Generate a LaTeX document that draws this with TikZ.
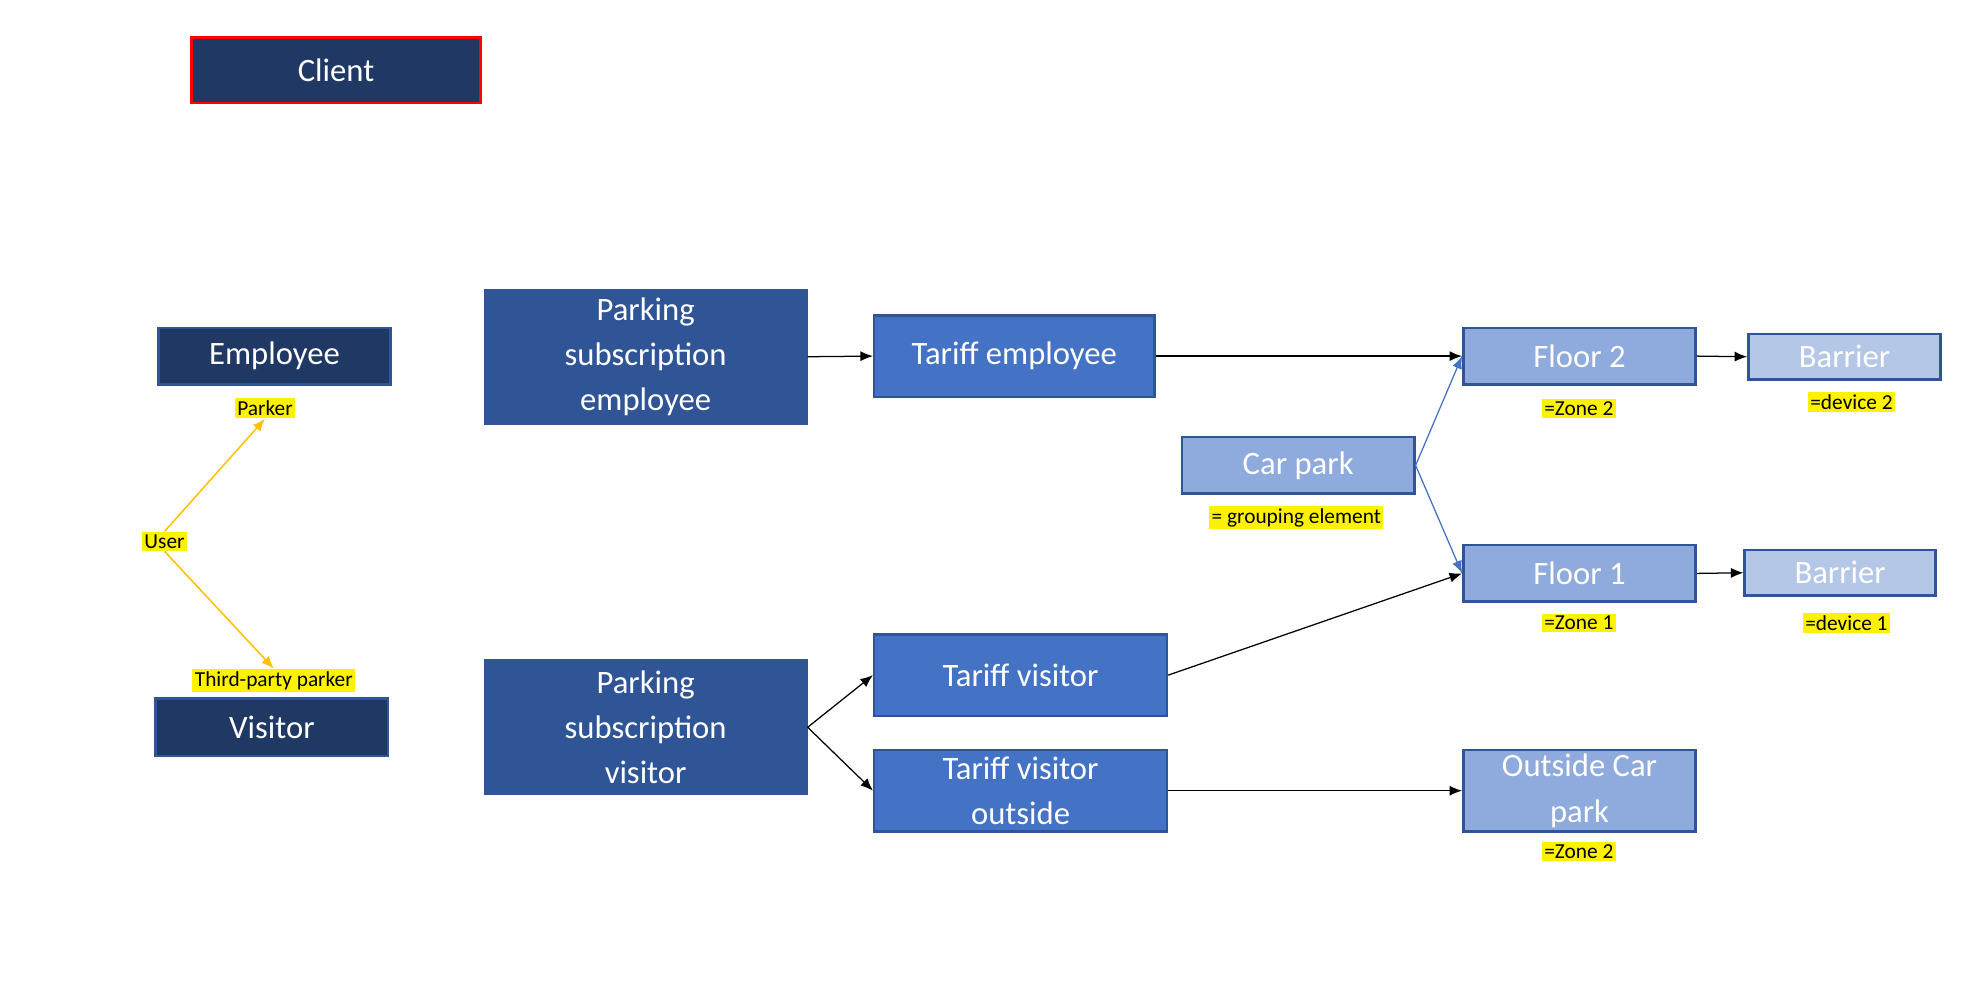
\documentclass[tikz,border=0pt]{standalone}
\usepackage{fontspec}
\setmainfont{Carlito}
\usetikzlibrary{arrows.meta}
\definecolor{navy}{HTML}{1F3864}
\definecolor{dblue}{HTML}{2F5597}
\definecolor{mblue}{HTML}{4472C4}
\definecolor{lblue}{HTML}{8FAADC}
\definecolor{llblue}{HTML}{B4C7E7}
\definecolor{orng}{HTML}{FFC000}
\begin{document}
\begin{tikzpicture}[x=0.5pt,y=-0.5pt,
 box/.style={draw=dblue,line width=1pt,text=white,font=\fontsize{13}{18}\selectfont,align=center,inner sep=0pt},
 lab/.style={fill=yellow,font=\fontsize{8.5}{10}\selectfont,inner sep=1pt},
 arr/.style={-{Latex[length=5pt,width=4pt]},line width=0.5pt},
 oarr/.style={-{Latex[length=5pt,width=4pt]},orng,line width=0.6pt}]
\useasboundingbox (0,0) rectangle (1566,793);
\newcommand{\bx}[7]{\node[box,fill=#6,minimum width=#4*0.5pt,minimum height=#5*0.5pt,#7] (#1) at (#2,#3) {};}
\node[box,fill=navy,draw=red,minimum width=115pt,minimum height=26pt] (client) at (267.5,56) {Client};
\node[box,fill=navy,minimum width=92.5pt,minimum height=22.5pt] (emp) at (218.5,283.5) {Employee};
\node[box,fill=navy,minimum width=92.5pt,minimum height=23pt] (vis) at (216.5,579) {Visitor};
\node[lab] (parker) at (211,325) {Parker};
\node[lab] (user) at (131,431) {User};
\node[lab] (third) at (218,542) {Third-party parker};
\draw[oarr] (user.north) -- (parker.south);
\draw[oarr] (user.south) -- (third.north);
\node[box,fill=dblue,minimum width=128pt,minimum height=53pt] (pse) at (514,284) {Parking\\subscription\\employee};
\node[box,fill=dblue,minimum width=128pt,minimum height=53pt] (psv) at (514,579) {Parking\\subscription\\visitor};
\node[box,fill=mblue,minimum width=111.5pt,minimum height=32.5pt] (te) at (807.5,283.5) {Tariff employee};
\node[box,fill=mblue,minimum width=116.5pt,minimum height=32.5pt] (tv) at (812.5,537.5) {Tariff visitor};
\node[box,fill=mblue,minimum width=116.5pt,minimum height=32.5pt] (tvo) at (812.5,629.5) {Tariff visitor\\outside};
\node[box,fill=lblue,minimum width=92.5pt,minimum height=22.5pt] (cp) at (1033.5,370.5) {Car park};
\node[lab] (ge) at (1032,412) {= grouping element};
\node[box,fill=lblue,minimum width=92.5pt,minimum height=22.5pt] (f2) at (1257.5,283.5) {Floor 2};
\node[lab] (z2) at (1257,325) {=Zone 2};
\node[box,fill=lblue,minimum width=92.5pt,minimum height=22.5pt] (f1) at (1257.5,456.5) {Floor 1};
\node[lab] (z1) at (1257,496) {=Zone 1};
\node[box,fill=lblue,minimum width=92.5pt,minimum height=32.5pt] (oc) at (1257.5,629.5) {Outside Car\\park};
\node[lab] (z2b) at (1257,678) {=Zone 2};
\node[box,fill=llblue,minimum width=76.5pt,minimum height=18pt] (b2) at (1468.5,284) {Barrier};
\node[lab] (d2) at (1474,320) {=device 2};
\node[box,fill=llblue,minimum width=76pt,minimum height=18pt] (b1) at (1465,456) {Barrier};
\node[lab] (d1) at (1470,496) {=device 1};
\draw[arr] (pse.east) -- (te.west);
\draw[arr] (te.east) -- (f2.west);
\draw[arr] (tv.east) -- (f1.west);
\draw[arr] (psv.east) -- (tv.west);
\draw[arr] (psv.east) -- (tvo.west);
\draw[arr] (tvo.east) -- (oc.west);
\draw[arr] (f2.east) -- (b2.west);
\draw[arr] (f1.east) -- (b1.west);
\draw[arr,mblue] (cp.east) -- (f2.west);
\draw[arr,mblue] (cp.east) -- (f1.west);
\end{tikzpicture}
\end{document}
